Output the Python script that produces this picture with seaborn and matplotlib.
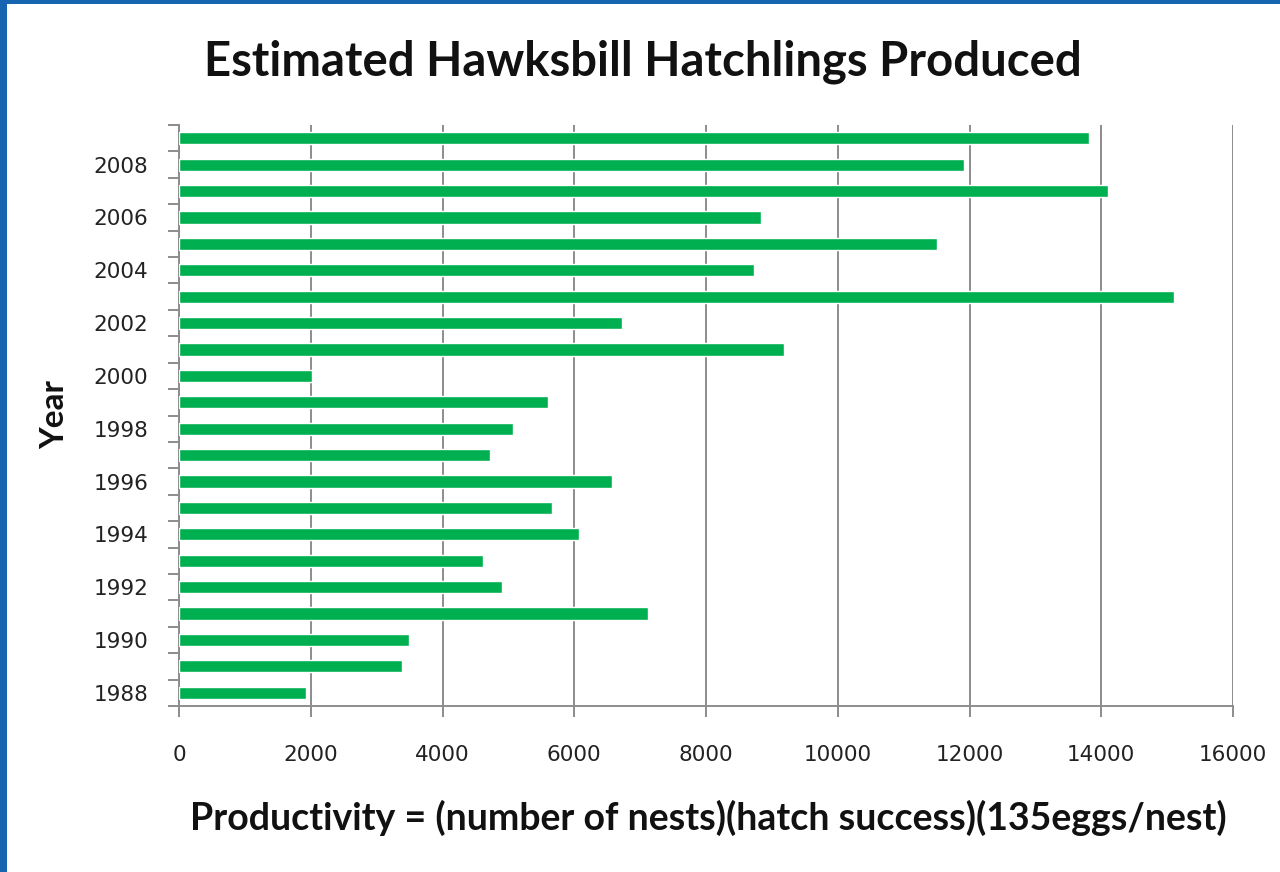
import matplotlib
matplotlib.use("Agg")
import matplotlib.pyplot as plt
import seaborn as sns
import pandas as pd
import numpy as np
from matplotlib.patches import Rectangle

years = [1988, 1989, 1990, 1991, 1992, 1993, 1994, 1995, 1996, 1997, 1998,
         1999, 2000, 2001, 2002, 2003, 2004, 2005, 2006, 2007, 2008, 2009]
hatchlings = [1930, 3390, 3490, 7120, 4900, 4620, 6070, 5660, 6570, 4720, 5070,
              5600, 2020, 9180, 6720, 15110, 8730, 11500, 8830, 14110, 11910, 13820]
xticks = [0, 2000, 4000, 6000, 8000, 10000, 12000, 14000, 16000]

title = "Estimated Hawksbill Hatchlings Produced"
xlabel = "Productivity = (number of nests)(hatch success)(135eggs/nest)"
ylabel = "Year"

df = pd.DataFrame({"Year": [str(y) for y in years], "Hatchlings": hatchlings})
order = [str(y) for y in years[::-1]]

sns.set_style("white")
plt.rcParams['font.family'] = ['DejaVu Sans']

fig = plt.figure(figsize=(12.8, 8.72), dpi=100)
ax = fig.add_axes([179/1280, 1-706/872, (1233-179)/1280, (706-125)/872])

sns.barplot(data=df, x="Hatchlings", y="Year", order=order, orient="h",
            color="#00B050", saturation=1, width=0.46, ax=ax, zorder=3)

ax.set_xlim(0, 16000)
ax.set_ylim(len(order) - 0.5, -0.5)
ax.set_xticks(xticks)
ax.set_xticklabels([str(v) for v in xticks], fontsize=15.5, color="#222222")
ax.xaxis.grid(True, color="#8c8c8c", linewidth=1.4, zorder=0)
ax.yaxis.grid(False)

# y labels every other year, ticks at category boundaries
ax.set_yticks(range(len(order)))
ax.set_yticklabels([y if int(y) % 2 == 0 else "" for y in order], fontsize=15.5, color="#222222")
ax.set_yticks(np.arange(-0.5, len(order), 1.0), minor=True)
ax.tick_params(axis="y", which="major", left=False, length=0, pad=22)
ax.tick_params(axis="y", which="minor", left=True, length=8, width=1.4,
               color="#8c8c8c", direction="out")
ax.tick_params(axis="x", which="major", bottom=True, length=8, width=1.4,
               color="#8c8c8c", direction="out", pad=20)

for s in ["top", "right"]:
    ax.spines[s].set_visible(False)
for s in ["left", "bottom"]:
    ax.spines[s].set_color("#8c8c8c")
    ax.spines[s].set_linewidth(1.4)

ax.set_xlabel("")
ax.set_ylabel("")
fig.text(643/1280, 1-62/872, title, ha="center", va="center",
         fontsize=34, fontweight="bold", family="Lato", color="#111111")
fig.text(708/1280, 1-818/872, xlabel, ha="center", va="center",
         fontsize=27, fontweight="bold", family="Lato", color="#111111")
fig.text(55/1280, 1-415/872, ylabel, ha="center", va="center", rotation=90,
         fontsize=24, fontweight="bold", family="Lato", color="#111111")

# slide frame
fig.add_artist(Rectangle((0, 0), 7/1280, 1, transform=fig.transFigure,
                         facecolor="#1565b0", edgecolor="none"))
fig.add_artist(Rectangle((0, 1-4/872), 1, 4/872, transform=fig.transFigure,
                         facecolor="#1565b0", edgecolor="none"))

fig.savefig("out.png", dpi=100)
